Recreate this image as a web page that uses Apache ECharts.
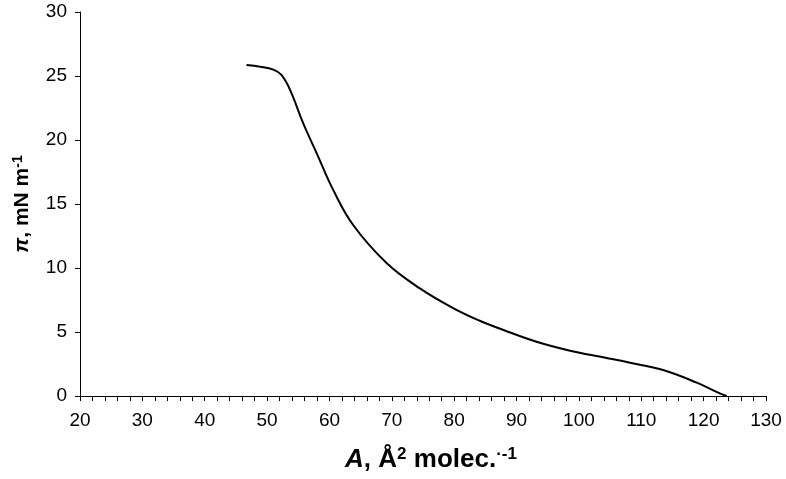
<!DOCTYPE html>
<html>
<head>
<meta charset="utf-8">
<script src="https://cdn.jsdelivr.net/npm/echarts@6/dist/echarts.min.js"></script>
<style>
html,body{margin:0;padding:0;background:#fff;}
#chart{width:786px;height:479px;}
</style>
</head>
<body>
<div id="chart"></div>
<script>
// Area per molecule (Å² molec.⁻¹)
var areaValues = [46.7, 48.9, 51.0, 52.3, 53.7, 55.8, 57.96, 60.6, 63.8, 69.2, 74.5, 79.9, 84.1, 87.9, 93.2, 98.6, 103.9, 108.2, 113.5, 118.9, 122.6, 123.7];
// Surface pressure (mN m⁻¹)
var pressureValues = [25.86, 25.73, 25.5, 25.08, 23.9, 21.3, 18.96, 16.1, 13.36, 10.37, 8.41, 6.85, 5.88, 5.16, 4.24, 3.54, 3.02, 2.6, 2.03, 1.04, 0.2, 0.0];
var xTicks = [20, 30, 40, 50, 60, 70, 80, 90, 100, 110, 120, 130];
var yTicks = [0, 5, 10, 15, 20, 25, 30];

var seriesData = areaValues.map(function (a, i) { return [a, pressureValues[i]]; });

var chart = echarts.init(document.getElementById('chart'), null, {renderer: 'canvas'});
var font = '"Liberation Sans", Arial, sans-serif';
chart.setOption({
  animation: false,
  backgroundColor: '#ffffff',
  grid: {left: 80, right: 20, top: 12, bottom: 83, containLabel: false},
  xAxis: {
    type: 'value',
    min: xTicks[0], max: xTicks[xTicks.length - 1], interval: 10,
    name: '{i|A}{b|, Å}{sup|2}{b| molec.}{sup|·-1}',
    nameLocation: 'middle', nameGap: 50,
    nameTextStyle: {
      fontFamily: font, fontWeight: 'bold', fontSize: 26, color: '#000',
      padding: [0, 0, 0, 16],
      rich: {
        i: {fontFamily: font, fontWeight: 'bold', fontStyle: 'italic', fontSize: 26, color: '#000'},
        b: {fontFamily: font, fontWeight: 'bold', fontSize: 26, color: '#000'},
        sup: {fontFamily: font, fontWeight: 'bold', fontSize: 17, color: '#000', verticalAlign: 'top', padding: [0, 0, 10, 0]}
      }
    },
    axisLine: {show: true, onZero: false, lineStyle: {color: '#000', width: 1}},
    axisTick: {show: true, inside: false, length: 5, lineStyle: {color: '#000'}},
    minorTick: {show: true, splitNumber: 5, length: 5, lineStyle: {color: '#000'}},
    splitLine: {show: false},
    axisLabel: {fontFamily: font, fontSize: 19, color: '#000', margin: 15}
  },
  yAxis: {
    type: 'value',
    min: yTicks[0], max: yTicks[yTicks.length - 1], interval: 5,
    name: '{i|π}{b|, mN m}{sup|-1}',
    nameLocation: 'middle', nameGap: 46, nameRotate: 90,
    nameTextStyle: {
      fontFamily: font, fontWeight: 'bold', fontSize: 21, color: '#000',
      rich: {
        i: {fontFamily: font, fontWeight: 'bold', fontStyle: 'italic', fontSize: 21, color: '#000'},
        b: {fontFamily: font, fontWeight: 'bold', fontSize: 21, color: '#000'},
        sup: {fontFamily: font, fontWeight: 'bold', fontSize: 14, color: '#000', verticalAlign: 'top', padding: [0, 0, 9, 0]}
      }
    },
    axisLine: {show: true, lineStyle: {color: '#000', width: 1}},
    axisTick: {show: true, inside: false, length: 5, lineStyle: {color: '#000'}},
    splitLine: {show: false},
    axisLabel: {fontFamily: font, fontSize: 19, color: '#000', margin: 13}
  },
  series: [{
    type: 'line',
    data: seriesData,
    smooth: 0.4,
    showSymbol: false,
    lineStyle: {color: '#000', width: 2}
  }]
});
</script>
</body>
</html>
